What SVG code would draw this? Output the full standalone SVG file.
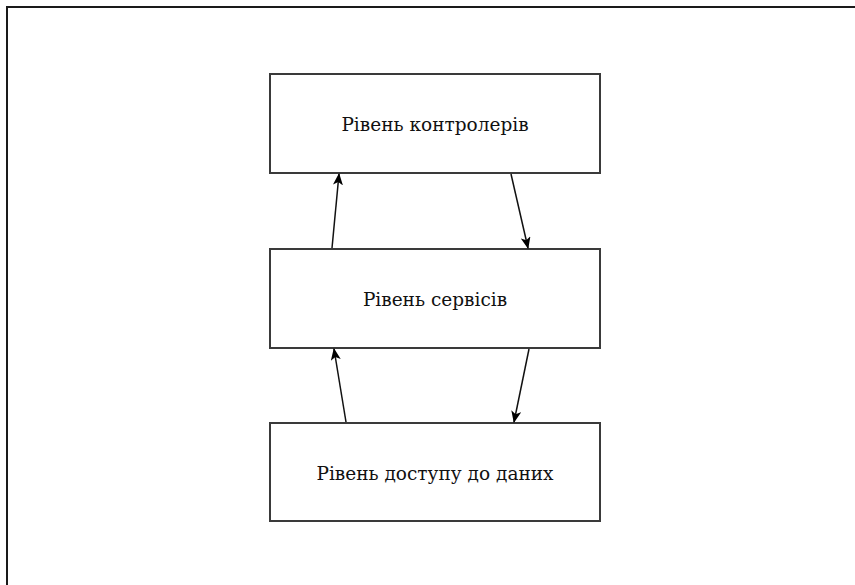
<svg xmlns="http://www.w3.org/2000/svg" width="855" height="585" viewBox="0 0 855 585">
  <style>
    .box { fill: #ffffff; stroke: #3a3a3a; stroke-width: 2; }
    .label { font-family: "DejaVu Serif", "Liberation Serif", serif; font-size: 18.5px; fill: #111111; text-anchor: middle; }
    .link { stroke: #111111; stroke-width: 1.5; fill: none; marker-end: url(#arrow); }
  </style>
  <defs>
    <marker id="arrow" viewBox="0 0 12 10" refX="11" refY="5" markerWidth="12" markerHeight="10" markerUnits="userSpaceOnUse" orient="auto">
      <path d="M0,0 L12,5 L0,10 L3,5 Z" fill="#000000"/>
    </marker>
  </defs>
  <rect width="855" height="585" fill="#ffffff"/>
  <!-- page frame -->
  <path d="M7,585 V7 H855" fill="none" stroke="#1a1a1a" stroke-width="2"/>

  <g id="controllers">
    <rect class="box" x="270" y="74" width="330" height="99"/>
    <text class="label" x="435" y="131">Рівень контролерів</text>
  </g>
  <g id="services">
    <rect class="box" x="270" y="249" width="330" height="99"/>
    <text class="label" x="435" y="306">Рівень сервісів</text>
  </g>
  <g id="data-access">
    <rect class="box" x="270" y="423" width="330" height="98"/>
    <text class="label" x="435" y="480">Рівень доступу до даних</text>
  </g>

  <g id="connectors">
    <line class="link" x1="332" y1="248" x2="339" y2="174"/>
    <line class="link" x1="511" y1="174" x2="528" y2="248"/>
    <line class="link" x1="346" y1="422" x2="334" y2="349"/>
    <line class="link" x1="529" y1="349" x2="514" y2="422"/>
  </g>
</svg>
